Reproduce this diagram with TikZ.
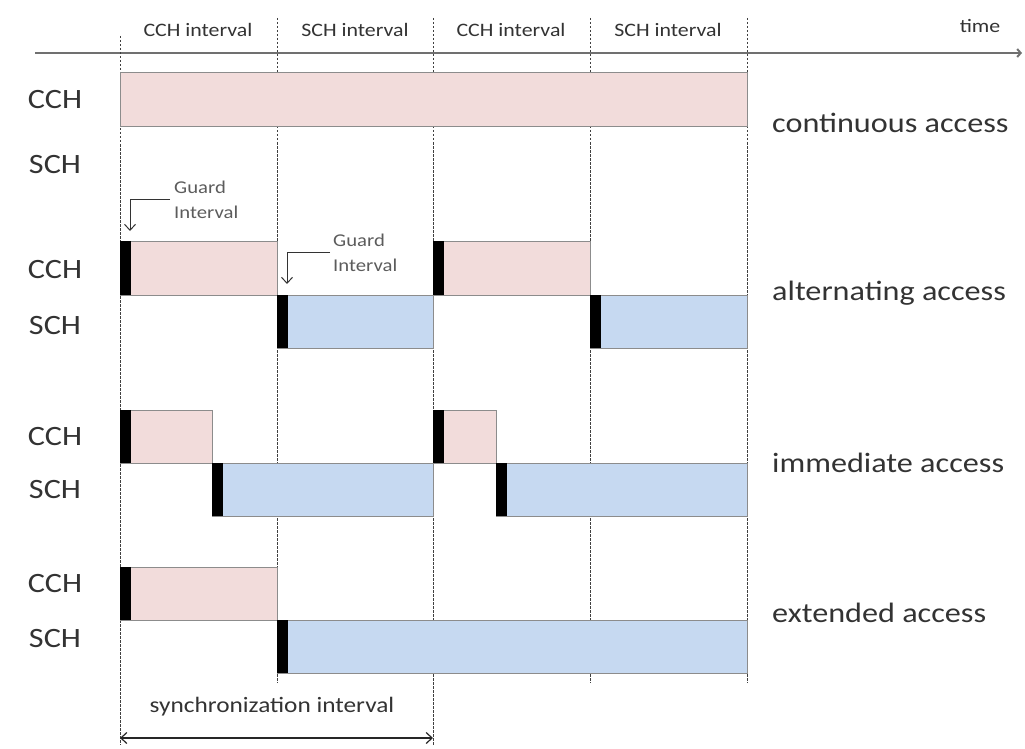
\documentclass[tikz,border=0pt]{standalone}
\usepackage{fontspec}
\setmainfont{Carlito}[FakeStretch=1.15]
\usetikzlibrary{arrows.meta}
\definecolor{cchpink}{HTML}{F2DCDB}
\definecolor{schblue}{HTML}{C6D9F1}
\definecolor{txtgray}{HTML}{333333}
\definecolor{edgegray}{HTML}{8C8C8C}
\definecolor{axisgray}{HTML}{707070}
\tikzset{
  cchbox/.style={fill=cchpink,draw=edgegray,line width=1pt},
  schbox/.style={fill=schblue,draw=edgegray,line width=1pt},
  guardbar/.style={fill=black},
  slotline/.style={draw=black!75,line width=1pt,dash pattern=on 2.5pt off 1.5pt},
  chlabel/.style={font=\fontsize{28}{30}\selectfont,text=txtgray},
  modelabel/.style={font=\fontsize{28}{30}\selectfont,text=txtgray,anchor=west,inner sep=0pt},
  intlabel/.style={font=\fontsize{19}{21}\selectfont,text=txtgray},
  guardlabel/.style={font=\fontsize{18}{25}\selectfont,text=txtgray!80,align=left,anchor=west,inner sep=0pt},
}
\begin{document}
\begin{tikzpicture}[x=1pt,y=-1pt,>={Straight Barb[length=6pt,width=11pt]}]
  \useasboundingbox (0,0) rectangle (1025,749);
  % time axis
  \coordinate (t0) at (35,53);
  \coordinate (t1) at (1022,53);
  \draw[axisgray,line width=2pt,-{Straight Barb[length=3.5pt,width=8pt]}] (t0) -- (t1);
  \node[intlabel] (time) at (980,26) {time};
  % slot boundaries
  \foreach \x/\ya/\yb in {120/36/745,277/18/683,433/18/745,590/18/683,747/18/683}
    \draw[slotline] (\x,\ya) -- (\x,\yb);
  \foreach \x/\ch [count=\i] in {198/CCH,355/SCH,511/CCH,668/SCH}
    \node[intlabel] (int\i) at (\x,30) {\ch{} interval};
  % continuous access
  \draw[cchbox] (120,73) rectangle (747,127);
  % channel boxes with guard intervals
  \foreach \xa/\xb/\ya/\yb/\kind in {
      120/277/241/295/cchbox, 277/433/295/348/schbox,
      433/590/241/295/cchbox, 590/747/295/348/schbox,
      120/212/410/463/cchbox, 212/433/463/516/schbox,
      433/496/410/463/cchbox, 496/747/463/516/schbox,
      120/277/567/620/cchbox, 277/747/620/673/schbox}
  {
    \draw[\kind] (\xa,\ya) rectangle (\xb,\yb);
    \fill[guardbar] (\xa,\ya) rectangle (\xa+11,\yb);
  }
  % channel names
  \foreach \y/\ch [count=\i] in {100/CCH,165/SCH,270/CCH,326/SCH,437/CCH,490/SCH,584/CCH,639/SCH}
    \node[chlabel] (ch\i) at (55,\y) {\ch};
  % access modes
  \node[modelabel] (cont) at (772,123) {continuous access};
  \node[modelabel] (alt) at (772,293) {alternating access};
  \node[modelabel] (imm) at (772,463) {immediate access};
  \node[modelabel] (ext) at (772,613) {extended access};
  % guard interval marks
  \coordinate (ga1) at (170,199);
  \coordinate (gt1) at (130,231);
  \draw[black!80,line width=1pt,->] (ga1) -| (gt1);
  \node[guardlabel] (gi1) at (174,200) {Guard\\Interval};
  \coordinate (ga2) at (330,252);
  \coordinate (gt2) at (287,284);
  \draw[black!80,line width=1pt,->] (ga2) -| (gt2);
  \node[guardlabel] (gi2) at (333,253) {Guard\\Interval};
  % synchronization interval
  \coordinate (sa) at (120,738);
  \coordinate (sb) at (433,738);
  \draw[black!85,line width=1.2pt,<->] (sa) -- (sb);
  \node[font=\fontsize{22}{24}\selectfont,text=txtgray] (sync) at (272,707) {synchronization interval};
\end{tikzpicture}
\end{document}
